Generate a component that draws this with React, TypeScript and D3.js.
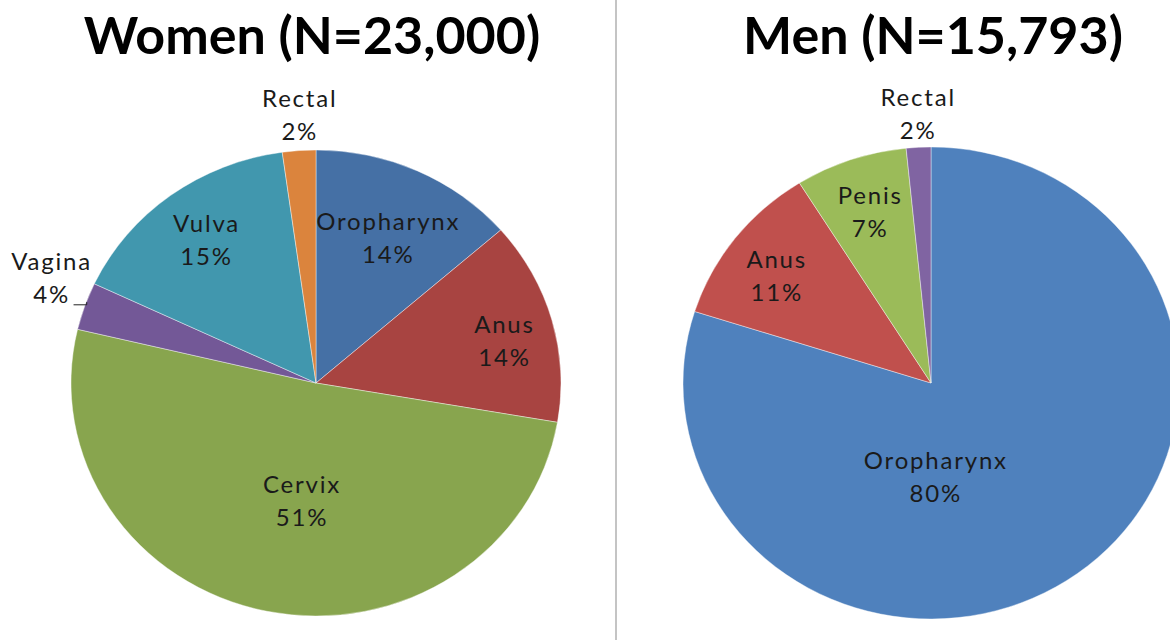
import React, { useEffect, useRef } from "react";
import * as d3 from "d3";

// Women (N=23,000)
const womenSites = ["Oropharynx", "Anus", "Cervix", "Vagina", "Vulva", "Rectal"];
const womenShares = [13.6, 14.1, 51.0, 3.3, 15.8, 2.2];
const womenLabels = ["14%", "14%", "51%", "4%", "15%", "2%"];
const womenColors = ["#4570A5", "#A84441", "#88A54E", "#735897", "#4197AE", "#DB843D"];

// Men (N=15,793)
const menSites = ["Oropharynx", "Anus", "Penis", "Rectal"];
const menShares = [79.9, 11.2, 7.3, 1.6];
const menLabels = ["80%", "11%", "7%", "2%"];
const menColors = ["#4F81BD", "#C0504D", "#9BBB59", "#8064A2"];

const W = 1170;
const H = 640;
const FONT = "Lato, 'Open Sans', sans-serif";

// label anchors: angle (deg, clockwise from top) and radius as fraction of pie
const womenLabelPos: Record<string, [number, number]> = {
  Oropharynx: [25.3, 0.69],
  Anus: [76.8, 0.79],
  Cervix: [186.4, 0.51],
  Vagina: [292.7, 1.17],
  Vulva: [324, 0.76],
  Rectal: [356.7, 1.15],
};
const menLabelPos: Record<string, [number, number]> = {
  Oropharynx: [177.2, 0.4],
  Anus: [306.1, 0.77],
  Penis: [341.3, 0.765],
  Rectal: [357.4, 1.14],
};

function drawPie(
  root: d3.Selection<SVGGElement, unknown, null, undefined>,
  opts: {
    title: string;
    titleX: number;
    cx: number;
    cy: number;
    rx: number;
    ry: number;
    sites: string[];
    shares: number[];
    labels: string[];
    colors: string[];
    labelPos: Record<string, [number, number]>;
    leader?: string[];
  }
) {
  const { cx, cy, rx, ry, sites, shares, labels, colors, labelPos } = opts;
  const data = sites.map((s, i) => ({ site: s, value: shares[i], label: labels[i] }));
  const pie = d3.pie<any>().sort(null).value((d) => d.value);
  const arcs = pie(data);
  const arc = d3.arc<any>().innerRadius(0).outerRadius(ry);
  const color = d3.scaleOrdinal<string, string>().domain(sites).range(colors);

  root
    .append("text")
    .attr("x", opts.titleX)
    .attr("y", 54)
    .attr("text-anchor", "middle")
    .style("font-family", FONT)
    .style("font-weight", 700)
    .style("font-size", "52px")
    .attr("fill", "#000")
    .text(opts.title);

  const g = root
    .append("g")
    .attr("transform", `translate(${cx},${cy}) scale(${rx / ry},1)`);

  g.selectAll("path")
    .data(arcs)
    .enter()
    .append("path")
    .attr("d", arc)
    .attr("fill", (d) => color(d.data.site))
    .attr("stroke", "#fff")
    .attr("stroke-opacity", 0.5)
    .attr("stroke-width", 0.8);

  const polar = (deg: number, r: number) => {
    const a = (deg * Math.PI) / 180;
    return [cx + Math.sin(a) * rx * r, cy - Math.cos(a) * ry * r];
  };

  arcs.forEach((d) => {
    const [ang, r] = labelPos[d.data.site];
    const [x, y] = polar(ang, r);
    const t = root
      .append("text")
      .attr("text-anchor", "middle")
      .style("font-family", FONT)
      .style("font-size", "24px")
      .style("letter-spacing", "1.8px")
      .attr("fill", "#1a1a1a");
    t.append("tspan").attr("x", x).attr("y", y - 8).text(d.data.site);
    t.append("tspan").attr("x", x).attr("y", y + 25).text(d.data.label);

    if (opts.leader && opts.leader.includes(d.data.site)) {
      const mid = ((d.startAngle + d.endAngle) / 2) * (180 / Math.PI);
      const [ex, ey] = polar(mid, 1);
      const sx = x + 22;
      const sy = y + 27;
      root
        .append("path")
        .attr("d", `M${sx},${sy}H${ex + 2}V${ey - 4}`)
        .attr("fill", "none")
        .attr("stroke", "#222")
        .attr("stroke-width", 1);
    }
  });
}

export default function App() {
  const ref = useRef<SVGSVGElement>(null);

  useEffect(() => {
    if (!ref.current) return;
    const svg = d3.select(ref.current);
    svg.selectAll("*").remove();
    const root = svg.append("g") as any;

    root
      .append("rect")
      .attr("width", W)
      .attr("height", H)
      .attr("fill", "#fff");

    // divider between the two panels
    root
      .append("line")
      .attr("x1", 616)
      .attr("x2", 616)
      .attr("y1", 0)
      .attr("y2", H)
      .attr("stroke", "#c4c4c4")
      .attr("stroke-width", 2);

    drawPie(root, {
      title: "Women (N=23,000)",
      titleX: 312,
      cx: 316,
      cy: 383,
      rx: 245,
      ry: 233,
      sites: womenSites,
      shares: womenShares,
      labels: womenLabels,
      colors: womenColors,
      labelPos: womenLabelPos,
      leader: ["Vagina"],
    });

    drawPie(root, {
      title: "Men (N=15,793)",
      titleX: 933,
      cx: 931,
      cy: 383,
      rx: 248,
      ry: 236,
      sites: menSites,
      shares: menShares,
      labels: menLabels,
      colors: menColors,
      labelPos: menLabelPos,
    });
  }, []);

  return (
    <svg
      ref={ref}
      width={W}
      height={H}
      style={{ position: "absolute", left: 0, top: 0, display: "block" }}
    />
  );
}
